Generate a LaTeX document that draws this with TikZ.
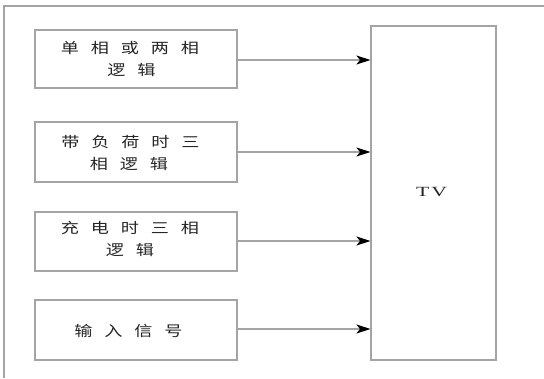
\documentclass[tikz,border=0pt]{standalone}
\usepackage{fontspec}
\setmainfont[FakeStretch=1.55]{Liberation Serif}
\newfontfamily\cjk[FakeStretch=1.25]{Noto Sans CJK SC}
\usetikzlibrary{arrows.meta}
\definecolor{linegray}{HTML}{A4A4A4}
\definecolor{txt}{HTML}{262626}
\begin{document}
\begin{tikzpicture}[x=1pt,y=-1pt,
  blk/.style={draw=linegray,line width=1.1pt,minimum width=202pt,inner sep=0pt},
  ch/.style={font=\cjk\fontsize{14.5}{18}\selectfont,text=txt,inner sep=0pt,anchor=base},
  conn/.style={draw=linegray,line width=1.1pt,-{Stealth[length=14pt,width=9pt,inset=3.5pt,color=black]}}]
\useasboundingbox (0,0) rectangle (544,378);
\fill[white] (0,0) rectangle (544,378);
\draw[linegray,line width=1.2pt] (544,6) -- (4,6) -- (4,378);
\node[blk,minimum height=58pt] (b1) at (136,59) {};
\node[blk,minimum height=60pt] (b2) at (136,152) {};
\node[blk,minimum height=59pt] (b3) at (136,241.5) {};
\node[blk,minimum height=60pt] (b4) at (136,330) {};
% box 1
\foreach \c [count=\i] in {单,相,或,两,相}
  \node[ch] (t1a\i) at ({70+30*(\i-1)},53) {\c};
\foreach \c [count=\i] in {逻,辑}
  \node[ch] (t1b\i) at ({116.5+30*(\i-1)},75.5) {\c};
% box 2
\foreach \c [count=\i] in {带,负,荷,时,三}
  \node[ch] (t2a\i) at ({70.5+30*(\i-1)},147) {\c};
\foreach \c [count=\i] in {相,逻,辑}
  \node[ch] (t2b\i) at ({99+30*(\i-1)},169) {\c};
% box 3
\foreach \c [count=\i] in {充,电,时,三,相}
  \node[ch] (t3a\i) at ({70+30*(\i-1)},233.5) {\c};
\foreach \c [count=\i] in {逻,辑}
  \node[ch] (t3b\i) at ({115+30*(\i-1)},255.5) {\c};
% box 4
\foreach \c [count=\i] in {输,入,信,号}
  \node[ch] (t4a\i) at ({83.5+30*(\i-1)},336) {\c};
\node[draw=linegray,line width=1.1pt,minimum width=125pt,minimum height=334pt,inner sep=0pt] (tv) at (433.5,193) {};
\node[font=\fontsize{14}{17}\selectfont,text=txt,inner sep=0pt] (tvl) at (431.5,192.5) {T\hspace{2pt}V};
\draw[conn] (b1.east |- 0,60) -- (tv.west |- 0,60);
\draw[conn] (b2.east |- 0,152) -- (tv.west |- 0,152);
\draw[conn] (b3.east |- 0,241) -- (tv.west |- 0,241);
\draw[conn] (b4.east |- 0,329) -- (tv.west |- 0,329);
\end{tikzpicture}
\end{document}
